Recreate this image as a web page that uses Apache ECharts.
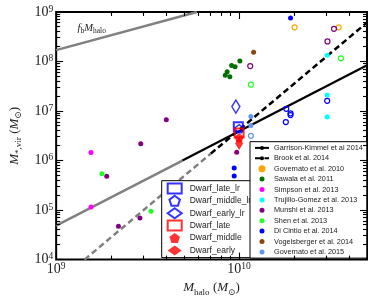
<!DOCTYPE html>
<html><head><meta charset="utf-8">
<script src="https://cdn.jsdelivr.net/npm/echarts@6/dist/echarts.min.js"></script>
<style>html,body{margin:0;padding:0;background:#fff}#c{width:374px;height:302px}</style>
</head><body><div id="c"></div>
<script>
// ---- axis ranges & ticks ----
const X_MIN = 1e9, X_MAX = 5e10, Y_MIN = 1e4, Y_MAX = 1e9;
const xMajorTicks = [1e9, 1e10];
const xMinorTicks = [2e9, 3e9, 4e9, 5e9, 6e9, 7e9, 8e9, 9e9, 2e10, 3e10, 4e10];
const yMajorTicks = [1e4, 1e5, 1e6, 1e7, 1e8, 1e9];
const yMinorTicks = [2e4, 3e4, 4e4, 5e4, 6e4, 7e4, 8e4, 9e4,
  2e5, 3e5, 4e5, 5e5, 6e5, 7e5, 8e5, 9e5,
  2e6, 3e6, 4e6, 5e6, 6e6, 7e6, 8e6, 9e6,
  2e7, 3e7, 4e7, 5e7, 6e7, 7e7, 8e7, 9e7,
  2e8, 3e8, 4e8, 5e8, 6e8, 7e8, 8e8, 9e8];

// ---- relations (lines) ----
const fbX = [1e9, 5.88e9], fbY = [1.7e8, 1e9];
const fbLabelAt = [1.31e9, 4.8e8];
const gkGreyX = [1e9, 4.9e9], gkGreyY = [4.86e4, 1.0e6];
const gkBlackX = [4.9e9, 5e10], gkBlackY = [1.0e6, 8.4e7];
const brookGreyX = [1.43e9, 7e9], brookGreyY = [1e4, 1.38e6];
const brookBlackX = [7e9, 5e10], brookBlackY = [1.38e6, 6.12e8];

// ---- literature points ----
const gov10OpenX = [2.01e10, 3.5e10], gov10OpenY = [4.9e8, 4.9e8];
const sawalaX = [1.01e10, 9.1e9, 9.5e9, 8.6e9, 8.4e9, 8.9e9];
const sawalaY = [1.03e8, 8.3e7, 7.8e7, 6.2e7, 5.3e7, 4.9e7];
const simpsonX = [1.55e9, 1.55e9], simpsonY = [1.45e6, 1.16e5];
const trujilloX = [3.03e10, 3.03e10, 3.03e10], trujilloY = [1.34e8, 2.1e7, 7.6e6];
const munshiX = [1.89e9, 2.9e9, 4.0e9, 2.87e9, 2.19e9, 9.7e9];
const munshiY = [4.8e5, 2.19e6, 6.7e6, 6.9e4, 4.7e4, 1.47e6];
const munshiOpenX = [1.15e10, 3.3e10, 3.04e10], munshiOpenY = [8.1e7, 4.57e8, 2.55e8];
const shenX = [1.78e9, 3.3e9], shenY = [5.4e5, 9.5e4];
const shenOpenX = [1.16e10, 3.6e10], shenOpenY = [3.4e7, 1.16e8];
const diCintioX = [1.91e10, 9.4e9, 9.4e9], diCintioY = [7.6e8, 7.1e5, 4.9e5];
const diCintioOpenX = [1.81e10, 1.91e10, 1.91e10, 1.8e10, 3.03e10];
const diCintioOpenY = [1.11e7, 9.0e6, 8.3e6, 6.0e6, 1.61e7];
const vogelX = [1.2e10], vogelY = [1.54e8];
const gov15X = [1.16e10, 1.16e10], gov15Y = [7.8e6, 5.1e6];
const gov15OpenX = [1.16e10], gov15OpenY = [3.16e6];

// ---- dwarf runs ----
const dwarfLateLr = [9.9e9, 4.8e6];
const dwarfMiddleLr = [1.0e10, 4.4e6];
const dwarfEarlyLr = [9.6e9, 1.23e7];
const dwarfLate = [1.0e10, 3.6e6];
const dwarfMiddle = [1.0e10, 2.9e6];
const dwarfEarly = [1.0e10, 2.2e6];

const pairs = (xs, ys) => xs.map((x, i) => [x, ys[i]]);
const SERIF = "'Liberation Serif', 'DejaVu Serif', serif";
const SANS = "'Liberation Sans', Arial, sans-serif";
const TXT = '#222';
const PENT = 'path://M0,-1 L0.951,-0.309 L0.588,0.809 L-0.588,0.809 L-0.951,-0.309 Z';

const C = {
  gov10: '#FFA500', sawala: '#007000', simpson: '#FF00FF', trujillo: '#00FFFF',
  munshi: '#800080', shen: '#22FF22', dicintio: '#0000FF', vogel: '#8B4513', gov15: '#6495ED'
};

function filled(name, data, color) {
  return { type: 'scatter', name, data, symbol: 'circle', symbolSize: 5, z: 3,
    itemStyle: { color, opacity: 1 } };
}
function open(name, data, color) {
  return { type: 'scatter', name, data, symbol: 'circle', symbolSize: 5, z: 3,
    itemStyle: { color: 'rgba(0,0,0,0)', borderColor: color, borderWidth: 1.2, opacity: 1 } };
}
function line(name, data, color, type, width) {
  return { type: 'line', name, data, symbol: 'none', showSymbol: false, z: 2,
    lineStyle: { color, width, type }, itemStyle: { color }, silent: true, animation: false };
}
function tickLabel(v) {
  const e = Math.round(Math.log10(v));
  if (Math.abs(v / Math.pow(10, e) - 1) > 1e-6) return '';
  return '{b|10}{s|' + e + '}';
}
const tickRich = {
  b: { fontSize: 14, fontFamily: SERIF, color: TXT, lineHeight: 16 },
  s: { fontSize: 9.5, fontFamily: SERIF, color: TXT, verticalAlign: 'top' }
};
const nameRich = {
  i: { fontSize: 13, fontFamily: SERIF, fontStyle: 'italic', color: TXT, lineHeight: 18 },
  s: { fontSize: 9, fontFamily: SERIF, color: TXT, verticalAlign: 'bottom' },
  p: { fontSize: 13, fontFamily: SERIF, color: TXT, lineHeight: 18 }
};

const gridOpt = { left: 45, right: 7, top: 12, bottom: 40, show: true, borderColor: '#000', borderWidth: 2,
  backgroundColor: 'rgba(0,0,0,0)' };
const xAxisOpt = {
  type: 'log', logBase: 10, min: X_MIN, max: X_MAX,
  axisLine: { show: false }, axisTick: { show: false }, splitLine: { show: false },
  axisLabel: { formatter: tickLabel, rich: tickRich, margin: 2, showMinLabel: true, showMaxLabel: true },
  name: '{i|M}{s|halo} {p|(}{i|M}{s|⊙}{p|)}', nameLocation: 'middle', nameGap: 19,
  nameTextStyle: { rich: nameRich }
};
const yAxisOpt = {
  type: 'log', logBase: 10, min: Y_MIN, max: Y_MAX,
  axisLine: { show: false }, axisTick: { show: false }, splitLine: { show: false },
  axisLabel: { formatter: tickLabel, rich: tickRich, margin: 3, showMinLabel: true, showMaxLabel: true },
  name: '{i|M}{s|*,vir} {p|(}{i|M}{s|⊙}{p|)}', nameLocation: 'middle', nameGap: 32, nameRotate: 90,
  nameTextStyle: { rich: nameRich }
};

const chart = echarts.init(document.getElementById('c'), null, { renderer: 'canvas' });

// step 1: axes only, to place tick marks through the chart's own scales
const tickEls = [];
try {
  chart.setOption({ animation: false, grid: gridOpt, xAxis: xAxisOpt, yAxis: yAxisOpt, series: [] });
  const px = v => chart.convertToPixel({ gridIndex: 0 }, v);
  const snap = a => Math.floor(a) + 0.5;
  const add = (x1, y1, x2, y2) => tickEls.push({ type: 'line', silent: true, z: 100,
    shape: { x1, y1, x2, y2 }, style: { stroke: '#000', lineWidth: 1.1 } });
  const xt = (v, L) => { const b = px([v, Y_MIN]), t = px([v, Y_MAX]); const x = snap(b[0]);
    add(x, b[1], x, b[1] - L); add(x, t[1], x, t[1] + L); };
  const yt = (v, L) => { const l = px([X_MIN, v]), r = px([X_MAX, v]); const y = snap(l[1]);
    add(l[0], y, l[0] + L, y); add(r[0], y, r[0] - L, y); };
  xMajorTicks.forEach(v => xt(v, 7));
  xMinorTicks.forEach(v => xt(v, 4));
  yMajorTicks.forEach(v => yt(v, 7));
  yMinorTicks.forEach(v => yt(v, 4));
} catch (e) { /* ticks optional */ }

const fbSeries = line('fbline', pairs(fbX, fbY), '#808080', 'solid', 2.5);
fbSeries.markPoint = {
  symbol: 'circle', symbolSize: 0, silent: true,
  data: [{ coord: fbLabelAt }],
  label: { show: true, position: 'right', distance: 0,
    formatter: '{i|f}{s|b}{i|M}{s|halo}',
    rich: {
      i: { fontSize: 10.5, fontFamily: SERIF, fontStyle: 'italic', color: TXT, lineHeight: 14 },
      s: { fontSize: 7.5, fontFamily: SERIF, color: TXT, verticalAlign: 'bottom' }
    } }
};

const series = [
  fbSeries,
  line('gkGrey', pairs(gkGreyX, gkGreyY), '#808080', 'solid', 2.5),
  line('Garrison-Kimmel et al 2014', pairs(gkBlackX, gkBlackY), '#000', 'solid', 2.2),
  line('brookGrey', pairs(brookGreyX, brookGreyY), '#808080', [6, 3.5], 2.5),
  line('Brook et al. 2014', pairs(brookBlackX, brookBlackY), '#000', [6, 3.5], 2.5),
  open('Governato et al. 2010', pairs(gov10OpenX, gov10OpenY), C.gov10),
  filled('Sawala et al. 2011', pairs(sawalaX, sawalaY), C.sawala),
  filled('Simpson et al. 2013', pairs(simpsonX, simpsonY), C.simpson),
  filled('Trujillo-Gomez et al. 2013', pairs(trujilloX, trujilloY), C.trujillo),
  filled('Munshi et al. 2013', pairs(munshiX, munshiY), C.munshi),
  open('Munshi et al. 2013', pairs(munshiOpenX, munshiOpenY), C.munshi),
  filled('Shen et al. 2013', pairs(shenX, shenY), C.shen),
  open('Shen et al. 2013', pairs(shenOpenX, shenOpenY), C.shen),
  filled('Di Cintio et al. 2014', pairs(diCintioX, diCintioY), C.dicintio),
  open('Di Cintio et al. 2014', pairs(diCintioOpenX, diCintioOpenY), C.dicintio),
  filled('Vogelsberger et al. 2014', pairs(vogelX, vogelY), C.vogel),
  filled('Governato et al. 2015', pairs(gov15X, gov15Y), C.gov15),
  open('Governato et al. 2015', pairs(gov15OpenX, gov15OpenY), C.gov15),
  { type: 'scatter', name: 'Dwarf_late_lr', data: [dwarfLateLr], symbol: 'rect', symbolSize: 9, z: 4,
    itemStyle: { color: 'rgba(0,0,0,0)', borderColor: '#0000FF', borderWidth: 2 } },
  { type: 'scatter', name: 'Dwarf_middle_lr', data: [dwarfMiddleLr], symbol: PENT, symbolSize: 8, z: 4,
    itemStyle: { color: 'rgba(0,0,0,0)', borderColor: '#0000FF', borderWidth: 1.5 } },
  { type: 'scatter', name: 'Dwarf_early_lr', data: [dwarfEarlyLr], symbol: 'diamond', symbolSize: [8, 13], z: 4,
    itemStyle: { color: 'rgba(0,0,0,0)', borderColor: '#0000FF', borderWidth: 1.5 } },
  { type: 'scatter', name: 'Dwarf_late', data: [dwarfLate], symbol: 'rect', symbolSize: 9, z: 4,
    itemStyle: { color: 'rgba(0,0,0,0)', borderColor: '#FF0000', borderWidth: 2 } },
  { type: 'scatter', name: 'Dwarf_middle', data: [dwarfMiddle], symbol: PENT, symbolSize: 9, z: 4,
    itemStyle: { color: '#FF0000' } },
  { type: 'scatter', name: 'Dwarf_early', data: [dwarfEarly], symbol: 'diamond', symbolSize: [8, 13], z: 4,
    itemStyle: { color: '#FF0000' } }
];

const rightNames = ['Garrison-Kimmel et al 2014', 'Brook et al. 2014'];
const dotNames = [['Governato et al. 2010', C.gov10], ['Sawala et al. 2011', C.sawala],
  ['Simpson et al. 2013', C.simpson], ['Trujillo-Gomez et al. 2013', C.trujillo],
  ['Munshi et al. 2013', C.munshi], ['Shen et al. 2013', C.shen],
  ['Di Cintio et al. 2014', C.dicintio], ['Vogelsberger et al. 2014', C.vogel],
  ['Governato et al. 2015', C.gov15]];
const rightLegendData = rightNames.map(n => ({ name: n })).concat(
  dotNames.map(([n, c]) => ({ name: n, icon: 'circle', itemStyle: { color: c } })));

// step 2: full chart, tick marks included as graphic elements
try {
  chart.setOption({
    animation: false,
    backgroundColor: '#fff',
    grid: gridOpt,
    xAxis: xAxisOpt,
    yAxis: yAxisOpt,
    graphic: { elements: tickEls },
    legend: [
      {
        z: 6, orient: 'vertical', left: 250, top: 141.7, selectedMode: false,
        backgroundColor: '#fff', borderColor: '#000', borderWidth: 1, borderRadius: 0,
        padding: [1, 4, 1, 4], itemGap: 0, itemWidth: 14, itemHeight: 5,
        textStyle: { fontSize: 7.3, fontFamily: SANS, color: TXT, lineHeight: 10.4 },
        data: rightLegendData
      },
      {
        z: 5, orient: 'vertical', left: 161.7, top: 180.7, selectedMode: false,
        backgroundColor: '#fff', borderColor: '#000', borderWidth: 1, borderRadius: 0,
        padding: [1.5, 12, 1, 5], itemGap: 0, itemWidth: 14, itemHeight: 10,
        textStyle: { fontSize: 8.5, fontFamily: SANS, color: TXT, lineHeight: 12.4, padding: [0, 0, 0, 3] },
        data: ['Dwarf_late_lr', 'Dwarf_middle_lr', 'Dwarf_early_lr', 'Dwarf_late', 'Dwarf_middle', 'Dwarf_early']
      }
    ],
    series
  });
} catch (e) { /* keep whatever rendered */ }
</script></body></html>
